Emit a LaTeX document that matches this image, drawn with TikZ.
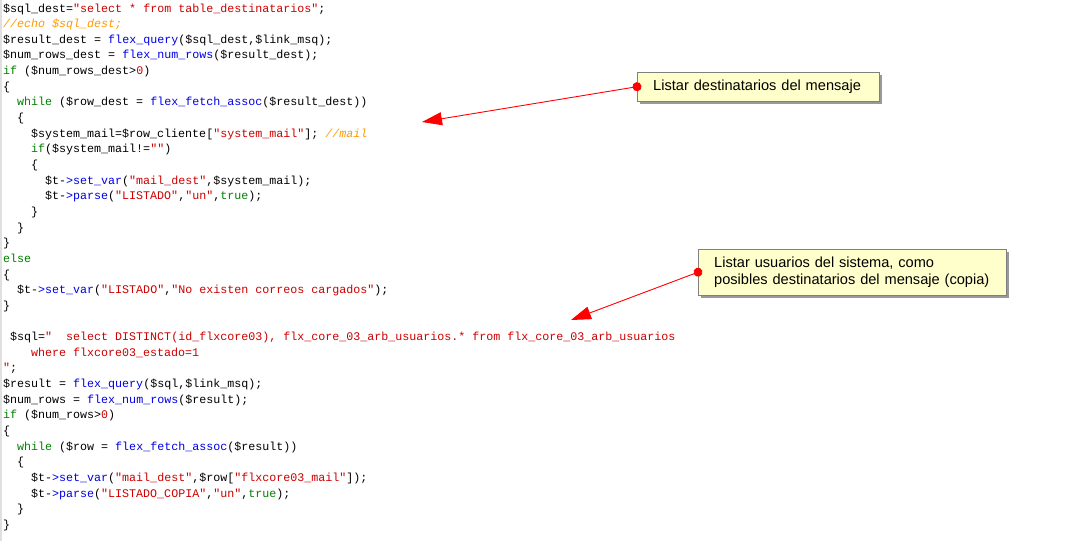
\documentclass[tikz,border=0pt]{standalone}
\usepackage{fontspec}
\setmainfont{Liberation Sans}
\setmonofont{Liberation Mono}
\usepackage{tikz}
\usetikzlibrary{arrows.meta,shadows,positioning}
\definecolor{phpstr}{RGB}{204,0,0}
\definecolor{phpfn}{RGB}{0,0,230}
\definecolor{phpkw}{RGB}{0,128,0}
\definecolor{phpcm}{RGB}{255,153,0}
\definecolor{notefill}{RGB}{255,255,204}
\newcommand{\Str}[1]{\textcolor{phpstr}{#1}}
\newcommand{\Fn}[1]{\textcolor{phpfn}{#1}}
\newcommand{\Kw}[1]{\textcolor{phpkw}{#1}}
\newcommand{\Cm}[1]{\textcolor{phpcm}{\itshape #1}}
\tikzset{
  >={Triangle[length=20pt,width=13pt]}
}

\begin{document}
\frenchspacing
\begin{tikzpicture}[x=1pt,y=-1pt,
    code/.style={anchor=base west,inner sep=0pt,font=\ttfamily\fontsize{11.67}{15.6}\selectfont},
    note/.style={draw=black!50,fill=notefill,anchor=north west,align=left,inner xsep=16pt,inner ysep=0pt,
      font=\fontsize{14.6}{17.5}\selectfont,
      drop shadow={shadow xshift=3pt,shadow yshift=-3pt,fill=black!40,opacity=1}},
    pointer/.style={red,line width=0.9pt,shorten <=-4.5pt,{Circle[length=9pt,fill=red]}->}]
        \useasboundingbox (0,0) rectangle (1074,541);
        \fill[white] (0,0) rectangle (1074,541);
        \fill[black!12] (0,0) rectangle (2,541);

        % primer bloque
        \node (L0) at (3,12) [code] {\$sql\_dest=\Str{"select * from table\_destinatarios"};};
        \node (L1) at (3,27.65) [code] {\Cm{//echo \$sql\_dest;}};
        \node (L2) at (3,43.3) [code] {\$result\_dest = \Fn{flex\_query}(\$sql\_dest,\$link\_msq);};
        \node (L3) at (3,58.95) [code] {\$num\_rows\_dest = \Fn{flex\_num\_rows}(\$result\_dest);};
        \node (L4) at (3,74.6) [code] {\Kw{if} (\$num\_rows\_dest>\Str{0})};
        \node (L5) at (3,90.25) [code] {\{};
        \node (L6) at (17,105.9) [code] {\Kw{while} (\$row\_dest = \Fn{flex\_fetch\_assoc}(\$result\_dest))};
        \node (L7) at (17,121.55) [code] {\{};
        \node (L8) at (31,137.2) [code] {\$system\_mail=\$row\_cliente[\Str{"system\_mail"}]; \Cm{//mail}};
        \node (L9) at (31,152.85) [code] {\Kw{if}(\$system\_mail!=\Str{""})};
        \node (L10) at (31,168.5) [code] {\{};
        \node (L11) at (45,184.15) [code] {\$t-\Fn{>set\_var}(\Str{"mail\_dest"},\$system\_mail);};
        \node (L12) at (45,199.8) [code] {\$t-\Fn{>parse}(\Str{"LISTADO"},\Str{"un"},\Kw{true});};
        \node (L13) at (31,215.45) [code] {\}};
        \node (L14) at (17,231.1) [code] {\}};
        \node (L15) at (3,246.75) [code] {\}};
        \node (L16) at (3,262.4) [code] {\Kw{else}};
        \node (L17) at (3,278.05) [code] {\{};
        \node (L18) at (17,293.7) [code] {\$t-\Fn{>set\_var}(\Str{"LISTADO"},\Str{"No existen correos cargados"});};
        \node (L19) at (3,309.35) [code] {\}};

        % segundo bloque
        \node (M0) at (10,340.65) [code] {\$sql=\Str{"\ \ select DISTINCT(id\_flxcore03), flx\_core\_03\_arb\_usuarios.* from flx\_core\_03\_arb\_usuarios}};
        \node (M1) at (31,356.3) [code] {\Str{where flxcore03\_estado=1}};
        \node (M2) at (3,371.95) [code] {\Str{"};};
        \node (M3) at (3,387.6) [code] {\$result = \Fn{flex\_query}(\$sql,\$link\_msq);};
        \node (M4) at (3,403.25) [code] {\$num\_rows = \Fn{flex\_num\_rows}(\$result);};
        \node (M5) at (3,418.9) [code] {\Kw{if} (\$num\_rows>\Str{0})};
        \node (M6) at (3,434.55) [code] {\{};
        \node (M7) at (17,450.2) [code] {\Kw{while} (\$row = \Fn{flex\_fetch\_assoc}(\$result))};
        \node (M8) at (17,465.85) [code] {\{};
        \node (M9) at (31,481.5) [code] {\$t-\Fn{>set\_var}(\Str{"mail\_dest"},\$row[\Str{"flxcore03\_mail"}]);};
        \node (M10) at (31,497.15) [code] {\$t-\Fn{>parse}(\Str{"LISTADO\_COPIA"},\Str{"un"},\Kw{true});};
        \node (M11) at (17,512.8) [code] {\}};
        \node (M12) at (3,528.45) [code] {\}};

        % notas
        \node (N1) at (637,72) [note,minimum width=242pt,minimum height=29pt,text width=210pt] {Listar destinatarios del mensaje};
        \node (N2) at (698,249) [note,minimum width=308pt,minimum height=46pt,text width=276pt] {Listar usuarios del sistema, como\\posibles destinatarios del mensaje (copia)};
        \coordinate (T1) at (422,122);
        \coordinate (T2) at (571,320);
        \draw[pointer] (N1.west) -- (T1);
        \draw[pointer] (N2.west) -- (T2);
    \end{tikzpicture}
\end{document}
